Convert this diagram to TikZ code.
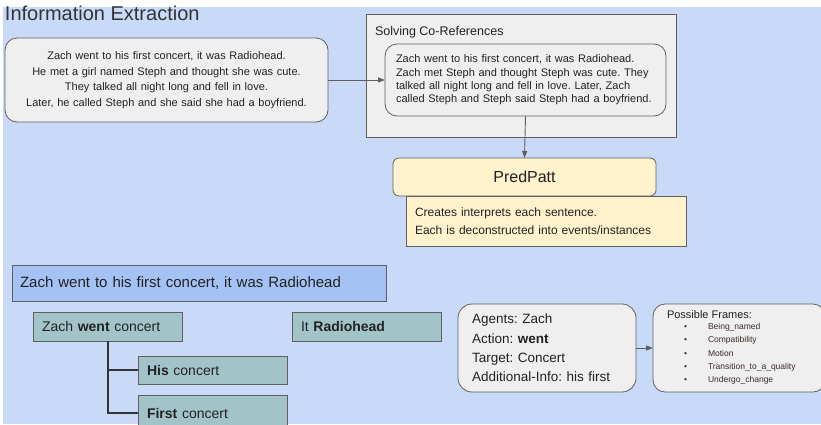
\documentclass[tikz,border=0pt]{standalone}
\usepackage{fontspec}
\setmainfont{Liberation Sans}
\usetikzlibrary{arrows.meta}
\frenchspacing

\definecolor{bgblue}{HTML}{C9DAF8}
\definecolor{boxgray}{HTML}{EFEFEF}
\definecolor{edgegray}{HTML}{5F5F5F}
\definecolor{inkgray}{HTML}{222222}
\definecolor{titlegray}{HTML}{333333}
\definecolor{noteyellow}{HTML}{FFF2CC}
\definecolor{sentblue}{HTML}{A4C2F4}
\definecolor{parsteal}{HTML}{A2C4C9}
\definecolor{frameink}{HTML}{3E2A2A}

\newcommand{\fs}[2]{\fontsize{#1}{#2}\selectfont}

\begin{document}
\begin{tikzpicture}[x=1pt,y=-1pt,
  every node/.style={text=inkgray, outer sep=0pt},
  panel/.style={draw=edgegray, line width=0.8pt, fill=boxgray, anchor=north west,
                inner ysep=0pt},
  roundpanel/.style={panel, rounded corners=12pt},
  note/.style={panel, fill=noteyellow},
  sentbox/.style={panel, fill=sentblue},
  partbox/.style={panel, fill=parsteal},
  flow/.style={draw=edgegray, line width=0.9pt, -{Triangle[length=7pt,width=5pt]}},
  branch/.style={draw=titlegray, line width=1.1pt}
]
\useasboundingbox (0,0) rectangle (821,424);
\fill[bgblue] (3,7) rectangle (821,424);

% heading
\node[anchor=west, text=titlegray, inner sep=0pt, font=\fs{20}{24}] (title) at (5,13)
  {Information Extraction};

% raw story
\node[roundpanel, minimum width=323pt, minimum height=84pt, text width=307pt,
      inner xsep=8pt, align=center, font=\fs{11}{15.6}] (story) at (5,38)
  {Zach went to his first concert, it was Radiohead.\\
   He met a girl named Steph and thought she was cute.\\
   They talked all night long and fell in love.\\
   Later, he called Steph and she said she had a boyfriend.};

% co-reference stage
\node[panel, minimum width=310pt, minimum height=123pt] (coref) at (366,14) {};
\node[anchor=west, inner sep=0pt, font=\fs{12.5}{15}] (coreftitle) at (375,32)
  {Solving Co-References};
\node[roundpanel, minimum width=279pt, minimum height=72pt, text width=259pt,
      inner xsep=11pt, align=left, font=\fs{11}{13.4}] (resolved) at (385,44)
  {Zach went to his first concert, it was Radiohead.\\
   Zach met Steph and thought Steph was cute. They\\
   talked all night long and fell in love. Later, Zach\\
   called Steph and Steph said Steph had a boyfriend.};

\draw[flow] (story.east) -- (resolved.west);

% PredPatt stage
\node[note, rounded corners=6pt, minimum width=263pt, minimum height=38pt,
      font=\fs{16}{19}] (predpatt) at (393,158) {PredPatt};
\node[note, minimum width=280pt, minimum height=50pt, text width=262pt,
      inner xsep=9pt, align=left, font=\fs{12}{18}] (prednote) at (406,196)
  {Creates interprets each sentence.\\
   Each is deconstructed into events/instances};
\draw[flow] (resolved.south) -- (predpatt.north);

% sentence decomposition
\node[sentbox, minimum width=374pt, minimum height=36pt, text width=358pt,
      inner xsep=8pt, align=left, font=\fs{15}{18}] (sentence) at (12,265)
  {Zach went to his first concert, it was Radiohead};
\node[partbox, minimum width=149pt, minimum height=29pt, text width=131pt,
      inner xsep=9pt, align=left, font=\fs{14}{17}] (went) at (33,312)
  {Zach \textbf{went} concert};
\node[partbox, minimum width=149pt, minimum height=29pt, text width=131pt,
      inner xsep=8pt, align=left, font=\fs{14}{17}] (radiohead) at (292,312)
  {It \textbf{Radiohead}};
\node[partbox, minimum width=149pt, minimum height=28pt, text width=131pt,
      inner xsep=9pt, align=left, font=\fs{14}{17}] (his) at (138,356)
  {\textbf{His} concert};
\node[partbox, minimum width=149pt, minimum height=36pt, text width=131pt,
      inner xsep=9pt, align=left, font=\fs{14}{17}] (first) at (138,395)
  {\textbf{First} concert};

\coordinate (trunk) at (108,341);
\draw[branch] (trunk) |- (his.west);
\draw[branch] (trunk) |- (first.west);

% event record and candidate frames
\node[roundpanel, rounded corners=14pt, minimum width=178pt, minimum height=88pt,
      text width=150pt, inner xsep=14pt, align=left, font=\fs{13.5}{19.3}] (event) at (458,304)
  {Agents: Zach\\
   Action: \textbf{went}\\
   Target: Concert\\
   Additional-Info: his first};
\node[roundpanel, minimum width=172pt, minimum height=88pt] (frames) at (653,304) {};
\draw[flow] (event.east) -- (frames.west);

\node[anchor=west, inner sep=0pt, font=\fs{11}{13}] (framestitle) at (667,315)
  {Possible Frames:};
\node[anchor=north west, inner sep=0pt, align=left, text=frameink,
      font=\fs{8.5}{13.2}] (framelist) at (684,323.5)
  {\makebox[24pt][l]{\textbullet}Being\_named\\
   \makebox[24pt][l]{\textbullet}Compatibility\\
   \makebox[24pt][l]{\textbullet}Motion\\
   \makebox[24pt][l]{\textbullet}Transition\_to\_a\_quality\\
   \makebox[24pt][l]{\textbullet}Undergo\_change};
\end{tikzpicture}
\end{document}
